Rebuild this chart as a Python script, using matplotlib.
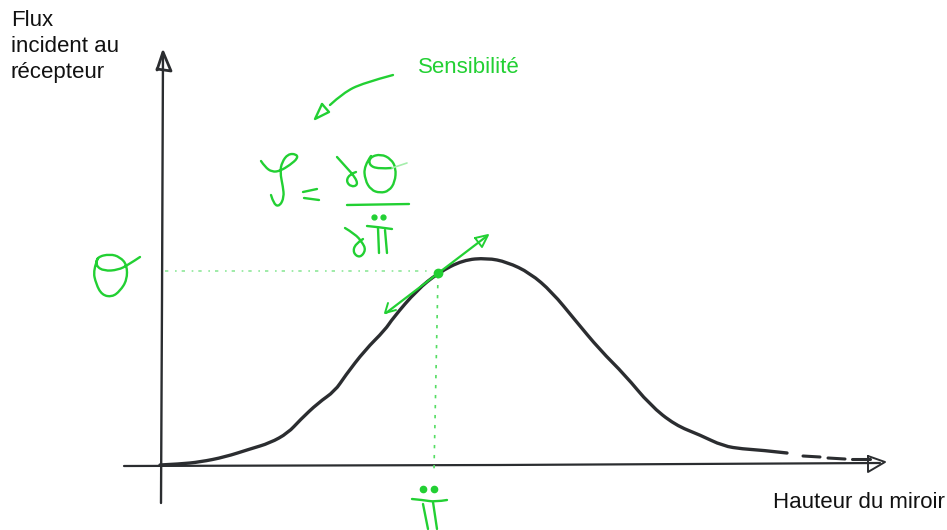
import matplotlib
matplotlib.use("Agg")
import matplotlib.pyplot as plt
from matplotlib.path import Path
from matplotlib.patches import PathPatch

plt.rcParams['font.family'] = ['Liberation Sans', 'DejaVu Sans']

GREEN = '#22d033'
BLACK = '#2b2d30'

curve_x = [160, 180, 200, 225, 250, 270, 288, 300, 318, 335, 345, 365, 385, 393, 417, 438, 463, 487, 507, 530, 552, 575, 600, 625, 650, 675, 700, 723, 743, 760, 787]
curve_y = [465, 464, 462, 457, 449, 443, 433, 420, 403, 391, 376, 350, 330, 318, 290, 273, 260, 258, 262, 273, 292, 320, 350, 375, 405, 425, 435, 446, 449, 450, 453]
tail_x = [[803, 820], [828, 845], [852, 870]]
tail_y = [[456, 457], [458, 459], [459, 459]]

xaxis_x = [124, 500, 880]
xaxis_y = [466, 465, 463]
xhead_x = [868, 885, 868, 868]
xhead_y = [456, 462, 472, 456]
yaxis_x = [161, 162, 163]
yaxis_y = [503, 300, 52]
yhead_x = [157, 163, 171, 157]
yhead_y = [70, 52, 71, 69]

guide_h_x = [165, 430]
guide_h_y = [271, 271]
guide_v_x = [438, 434]
guide_v_y = [275, 470]

tangent_x = [487, 386]
tangent_y = [236, 313]
head1_x = [475, 488, 482, 475]
head1_y = [238, 235, 247, 238]
head2_x = [388, 385, 396]
head2_y = [303, 313, 310]

theta_x = [98, 93, 96, 102, 112, 120, 127, 127, 120, 110, 97, 96, 104, 118, 128, 140]
theta_y = [258, 270, 284, 295, 297, 291, 280, 265, 257, 254, 257, 266, 271, 270, 265, 257]

sens_x = [393, 363, 343, 330]
sens_y = [75, 83, 93, 105]
sens_head_x = [322, 329, 315, 322]
sens_head_y = [104, 112, 119, 104]

phi_x = [261, 265, 272, 280, 290, 298, 296, 288, 282, 280, 283, 284, 280, 274, 271]
phi_y = [161, 167, 172, 171, 165, 158, 154, 154, 162, 172, 187, 197, 206, 205, 195]
eq1_x, eq1_y = [303, 317], [192, 189]
eq2_x, eq2_y = [304, 319], [198, 200]
d1_x = [337, 346, 355, 358, 351, 346, 350, 356]
d1_y = [157, 167, 177, 185, 187, 181, 174, 172]
theta2_x = [371, 364, 365, 371, 380, 389, 395, 396, 391, 381, 370, 369, 378, 392]
theta2_y = [156, 166, 180, 190, 193, 191, 182, 168, 159, 154, 157, 165, 169, 168]
theta2_tail_x, theta2_tail_y = [392, 407], [168, 163]
frac_x, frac_y = [347, 409], [205, 204]
d2_x = [345, 355, 362, 366, 360, 353, 355, 363]
d2_y = [228, 234, 242, 250, 258, 253, 244, 239]
pi1_bar_x, pi1_bar_y = [367, 378, 392], [226, 227, 229]
pi1_leg1_x, pi1_leg1_y = [378, 379], [228, 253]
pi1_leg2_x, pi1_leg2_y = [385, 387], [230, 253]
pi1_dots_x, pi1_dots_y = [374, 383], [217, 217]
pi2_bar_x, pi2_bar_y = [412, 423, 435, 447], [499, 500, 502, 500]
pi2_leg1_x, pi2_leg1_y = [423, 428], [504, 529]
pi2_leg2_x, pi2_leg2_y = [433, 437], [502, 529]
pi2_dots_x, pi2_dots_y = [423, 434], [489, 489]

fig = plt.figure(figsize=(9.47, 5.30), dpi=100)
ax = fig.add_axes([0, 0, 1, 1])
ax.set_xlim(0, 947)
ax.set_ylim(530, 0)
ax.axis('off')


def stroke(x, y, color=GREEN, lw=1.5):
    ax.plot(x, y, color=color, lw=lw, solid_capstyle='round', solid_joinstyle='round')


def smooth(x, y, color=GREEN, lw=1.7):
    # quadratic beziers, the read points act as control points
    verts = [(x[0], y[0])]
    codes = [Path.MOVETO]
    for i in range(1, len(x) - 1):
        end = (x[i + 1], y[i + 1]) if i == len(x) - 2 else ((x[i] + x[i + 1]) / 2, (y[i] + y[i + 1]) / 2)
        verts += [(x[i], y[i]), end]
        codes += [Path.CURVE3, Path.CURVE3]
    ax.add_patch(PathPatch(Path(verts, codes), fc='none', ec=color, lw=lw, capstyle='round', joinstyle='round'))


# axes
stroke(xaxis_x, xaxis_y, BLACK, 1.6)
stroke(xhead_x, xhead_y, BLACK, 1.4)
stroke(yaxis_x, yaxis_y, BLACK, 1.7)
stroke(yhead_x, yhead_y, BLACK, 2.0)

# guides
ax.plot(guide_h_x, guide_h_y, color='#8fe89a', lw=1.2, ls=(0, (2, 4, 1, 3)))
ax.plot(guide_v_x, guide_v_y, color='#55dd63', lw=1.2, ls=(0, (2, 4)))

# curve
smooth(curve_x, curve_y, BLACK, 2.4)
for tx, ty in zip(tail_x, tail_y):
    stroke(tx, ty, BLACK, 2.2)

# tangent
stroke(tangent_x, tangent_y, GREEN, 1.6)
stroke(head1_x, head1_y, GREEN, 1.4)
stroke(head2_x, head2_y, GREEN, 1.4)
ax.plot([438], [273], 'o', color=GREEN, ms=6)

# hand written symbols
for gx, gy in [(theta_x, theta_y), (sens_x, sens_y), (phi_x, phi_y), (d1_x, d1_y),
               (theta2_x, theta2_y), (d2_x, d2_y), (pi1_bar_x, pi1_bar_y), (pi2_bar_x, pi2_bar_y)]:
    smooth(gx, gy)
for gx, gy in [(sens_head_x, sens_head_y), (eq1_x, eq1_y), (eq2_x, eq2_y), (frac_x, frac_y),
               (pi1_leg1_x, pi1_leg1_y), (pi1_leg2_x, pi1_leg2_y),
               (pi2_leg1_x, pi2_leg1_y), (pi2_leg2_x, pi2_leg2_y)]:
    stroke(gx, gy, GREEN, 1.7)
stroke(theta2_tail_x, theta2_tail_y, '#a5eeac', 1.2)
ax.plot(pi1_dots_x, pi1_dots_y, 'o', color=GREEN, ms=3.5, ls='none')
ax.plot(pi2_dots_x, pi2_dots_y, 'o', color=GREEN, ms=4.5, ls='none')

# labels
ax.text(11, 26, 'Flux', fontsize=16, color='#111111')
ax.text(11, 52, 'incident au', fontsize=16, color='#111111')
ax.text(11, 78, 'récepteur', fontsize=16, color='#111111')
ax.text(773, 508, 'Hauteur du miroir', fontsize=16, color='#111111')
ax.text(418, 73, 'Sensibilité', fontsize=16, color=GREEN)

fig.savefig('out.png', dpi=100)
